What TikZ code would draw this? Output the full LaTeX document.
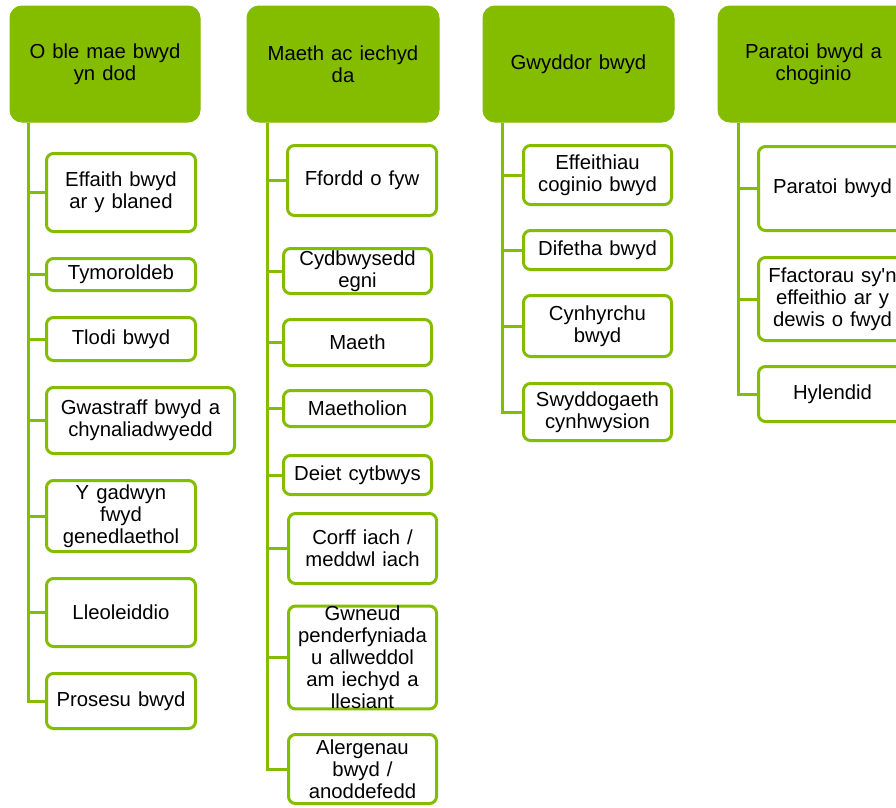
\documentclass[tikz,border=0pt]{standalone}
\usepackage{fontspec}
\setmainfont{Liberation Sans}
\newfontfamily\rawfont{Liberation Sans}
\definecolor{lime}{RGB}{132,189,0}
\newcommand\boxfont{\fontsize{20.3}{22}\selectfont\spaceskip=7pt plus 1pt minus 1pt\relax}
\tikzset{
  x=1pt, y=-1pt,
  head/.style={fill=lime, draw=lime, line width=1pt, rounded corners=12pt, inner sep=0pt, align=center,
    font=\boxfont, text=black},
  kid/.style={draw=lime, fill=white, line width=3pt, rounded corners=7pt, inner sep=0pt, align=center,
    font=\boxfont, text=black},
  link/.style={draw=lime, line width=3pt, line join=miter}
}
\begin{document}
\begin{tikzpicture}
\clip (0,0) rectangle (896,807);
\fill[white] (0,0) rectangle (896,807);
% headers
\node[head, minimum width=190, minimum height=116] (h1) at (105,64) {O ble mae bwyd\\yn dod};
\node[head, minimum width=192, minimum height=116] (h2) at (343,64) {Maeth ac iechyd\\da};
\node[head, minimum width=191, minimum height=116] (h3) at (578.5,64) {Gwyddor bwyd};
\node[head, minimum width=191, minimum height=116] (h4) at (813.5,64) {Paratoi bwyd a\\choginio};
\coordinate (t1) at ([xshift=19]h1.south west);
\coordinate (t2) at ([xshift=21]h2.south west);
\coordinate (t3) at ([xshift=20]h3.south west);
\coordinate (t4) at ([xshift=21]h4.south west);
% column 1
\node[kid, minimum width=149, minimum height=78] (e1) at (121,192.5) {Effaith bwyd\\ar y blaned};
\node[kid, minimum width=149, minimum height=32] (e2) at (121,274.5) {Tymoroldeb};
\node[kid, minimum width=149, minimum height=43] (e3) at (121,339) {Tlodi bwyd};
\node[kid, minimum width=188, minimum height=66] (e4) at (140.5,420.5) {Gwastraff bwyd a\\chynaliadwyedd};
\node[kid, minimum width=149, minimum height=71] (e5) at (121,516) {Y gadwyn\\fwyd\\genedlaethol};
\node[kid, minimum width=149, minimum height=68] (e6) at (121,612.5) {Lleoleiddio};
\node[kid, minimum width=149, minimum height=55] (e7) at (121,701) {Prosesu bwyd};
% column 2
\node[kid, minimum width=149, minimum height=70] (m1) at (362,180.5) {Ffordd o fyw};
\node[kid, minimum width=148, minimum height=45] (m2) at (357.5,271) {Cydbwysedd\\egni};
\node[kid, minimum width=148, minimum height=46] (m3) at (357.5,342.5) {Maeth};
\node[kid, minimum width=148, minimum height=36] (m4) at (357.5,408.5) {Maetholion};
\node[kid, minimum width=148, minimum height=39] (m5) at (357.5,475) {Deiet cytbwys};
\node[kid, minimum width=148, minimum height=70] (m6) at (362.5,548.5) {Corff iach /\\meddwl iach};
\node[kid, minimum width=148, minimum height=100] (m7) at (362.5,657.5) {Gwneud\\penderfyniada\\u allweddol\\am iechyd a\\llesiant};
\node[kid, minimum width=148, minimum height=69] (m8) at (362.5,769) {Alergenau\\bwyd /\\anoddefedd};
% column 3
\node[kid, minimum width=148, minimum height=59] (g1) at (597.5,175) {Effeithiau\\coginio bwyd};
\node[kid, minimum width=148, minimum height=39] (g2) at (597.5,250) {Difetha bwyd};
\node[kid, minimum width=148, minimum height=61] (g3) at (597.5,326) {Cynhyrchu\\bwyd};
\node[kid, minimum width=148, minimum height=57] (g4) at (597.5,412) {Swyddogaeth\\cynhwysion};
% column 4
\node[kid, minimum width=148, minimum height=84] (p1) at (832.5,188.5) {Paratoi bwyd};
\node[kid, minimum width=148, minimum height=83] (p2) at (832.5,299) {Ffactorau sy{\rawfont '}n\\effeithio ar y\\dewis o fwyd};
\node[kid, minimum width=148, minimum height=55] (p3) at (832.5,394) {Hylendid};
% connectors
\foreach \c in {e1,e2,e3,e4,e5,e6,e7} \draw[link] (t1) |- (\c.west);
\foreach \c in {m1,m2,m3,m4,m5,m6,m7,m8} \draw[link] (t2) |- (\c.west);
\foreach \c in {g1,g2,g3,g4} \draw[link] (t3) |- (\c.west);
\foreach \c in {p1,p2,p3} \draw[link] (t4) |- (\c.west);
\end{tikzpicture}
\end{document}
